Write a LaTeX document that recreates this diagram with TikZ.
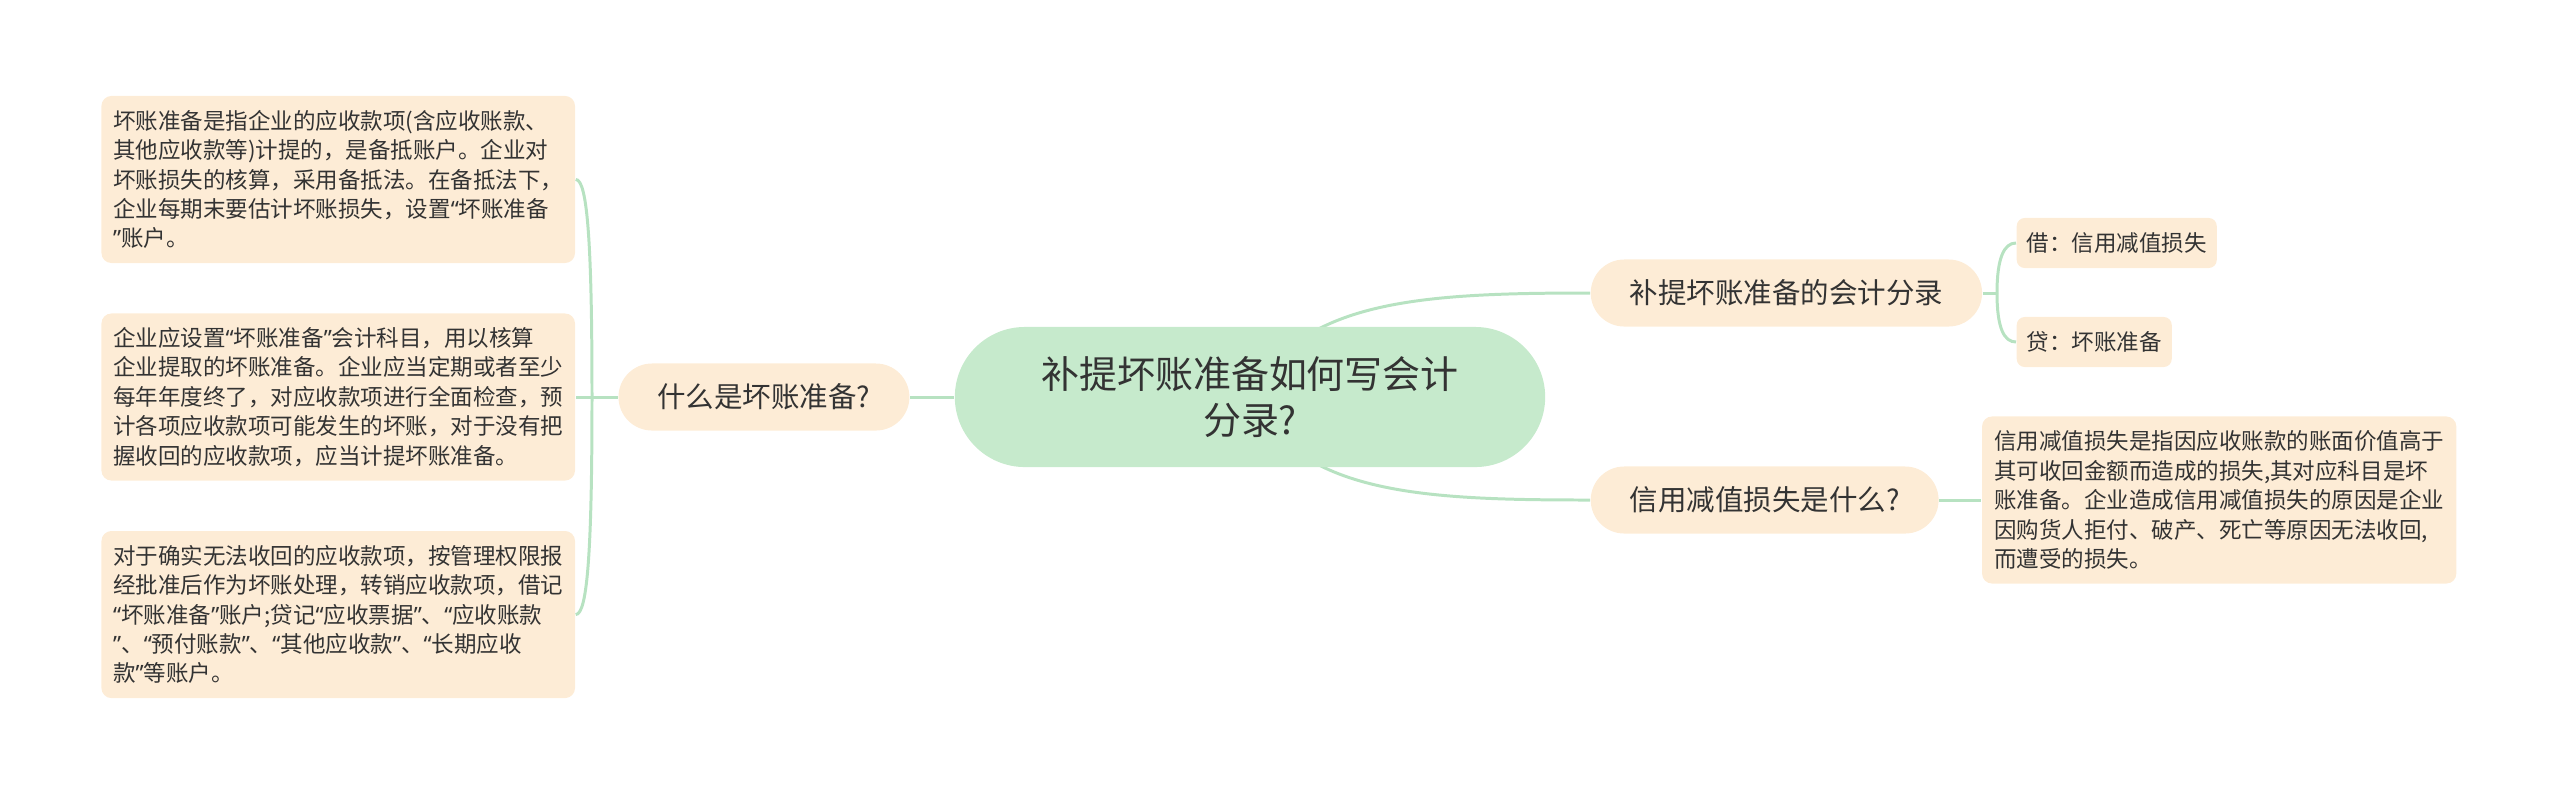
\documentclass[tikz,border=0pt]{standalone}
\usepackage{fontspec}
\setmainfont{Noto Sans CJK SC}
\newfontfamily\quotefont{Noto Sans}
\newcommand{\openq}{{\quotefont “}}
\newcommand{\closeq}{{\quotefont ”}}
\usepackage{xcolor}
\usetikzlibrary{positioning,backgrounds}

\definecolor{rootgreen}{RGB}{198,234,204}
\definecolor{leafpeach}{RGB}{253,236,214}
\definecolor{linkgreen}{RGB}{183,226,193}
\definecolor{inkgray}{RGB}{51,51,51}

\begin{document}
\begin{tikzpicture}[
    x=0.01cm, y=-0.01cm,
    root/.style={rectangle, fill=rootgreen, rounded corners=0.7cm, minimum width=5.9cm, minimum height=1.4cm, align=center, text=inkgray, font=\fontsize{10.8}{13.1}\selectfont},
    topic/.style={rectangle, fill=leafpeach, rounded corners=0.335cm, minimum height=0.67cm, inner xsep=0.39cm, text=inkgray, font=\fontsize{8.1}{10}\selectfont},
    note/.style={rectangle, fill=leafpeach, rounded corners=0.1cm, minimum width=4.72cm, minimum height=1.67cm, align=left, text=inkgray, font=\fontsize{6.4}{8.37}\selectfont},
    tag/.style={rectangle, fill=leafpeach, rounded corners=0.08cm, minimum height=0.5cm, inner xsep=0.1cm, text=inkgray, font=\fontsize{6.4}{8}\selectfont},
    link/.style={draw=linkgreen, line width=0.85pt}
]
\useasboundingbox (0,0) rectangle (2560,793);

% Centre
\node[root] (root) at (1250,397) {补提坏账准备如何写会计\\分录?};

% Left branch
\node[topic, left=0.44cm of root] (what) {什么是坏账准备?};
\node[note, left=0.42cm of what] (def2) {企业应设置\openq 坏账准备\closeq 会计科目，用以核算\\企业提取的坏账准备。企业应当定期或者至少\\每年年度终了，对应收款项进行全面检查，预\\计各项应收款项可能发生的坏账，对于没有把\\握收回的应收款项，应当计提坏账准备。};
\node[note, above=0.49cm of def2] (def1) {坏账准备是指企业的应收款项(含应收账款、\\其他应收款等)计提的，是备抵账户。企业对\\坏账损失的核算，采用备抵法。在备抵法下，\\企业每期末要估计坏账损失，设置\openq 坏账准备\\\closeq 账户。};
\node[note, below=0.49cm of def2] (def3) {对于确实无法收回的应收款项，按管理权限报\\经批准后作为坏账处理，转销应收款项，借记\\\openq 坏账准备\closeq 账户;贷记\openq 应收票据\closeq 、\openq 应收账款\\\closeq 、\openq 预付账款\closeq 、\openq 其他应收款\closeq 、\openq 长期应收\\款\closeq 等账户。};

% Right branches
\node[topic, anchor=west] (entry) at (1590,293) {补提坏账准备的会计分录};
\node[tag, anchor=west] (debit) at (2016,243) {借：信用减值损失};
\node[tag, anchor=west] (credit) at (2016,342) {贷：坏账准备};
\node[topic, anchor=west] (loss) at (1590,500) {信用减值损失是什么?};
\node[note, minimum width=4.74cm, right=0.42cm of loss] (lossdef) {信用减值损失是指因应收账款的账面价值高于\\其可收回金额而造成的损失,其对应科目是坏\\账准备。企业造成信用减值损失的原因是企业\\因购货人拒付、破产、死亡等原因无法收回,\\而遭受的损失。};

% Spines
\coordinate (lspine) at (592,397);
\coordinate (rspine) at (1997,293);

% Links
\begin{scope}[on background layer]
\draw[link] (root.center) .. controls (1300,300) and (1420,293) .. (entry.west);
\draw[link] (root.center) .. controls (1300,494) and (1420,500) .. (loss.west);
\end{scope}
\draw[link] (root.west) -- (what.east);
\draw[link] (what.west) -- (lspine) -- (def2.east);
\draw[link] (lspine) .. controls +(0,-150) and +(12,0) .. (def1.east);
\draw[link] (lspine) .. controls +(0,150) and +(12,0) .. (def3.east);
\draw[link] (entry.east) -- (rspine);
\draw[link] (rspine) .. controls +(0,-35) and +(-12,0) .. (debit.west);
\draw[link] (rspine) .. controls +(0,35) and +(-12,0) .. (credit.west);
\draw[link] (loss.east) -- (lossdef.west);

\end{tikzpicture}
\end{document}
